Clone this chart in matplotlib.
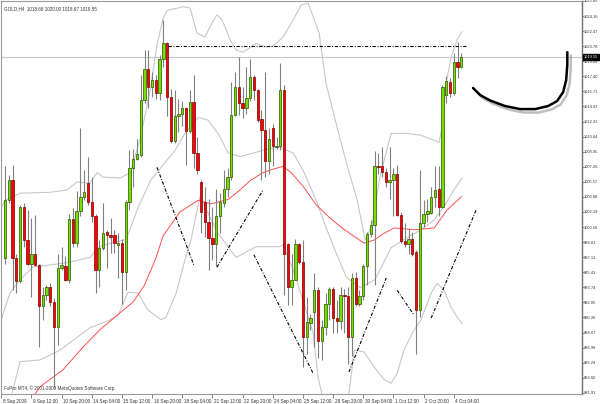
import numpy as np
import matplotlib
matplotlib.use("Agg")
import matplotlib.pyplot as plt
import matplotlib.patheffects as pe
import matplotlib.transforms as mtransforms

plt.rcParams["font.family"] = ["Liberation Sans", "DejaVu Sans"]

# === OHLC bars (GOLD, H4) ===
opens = [997.0, 1003.5, 1005.8, 997.0, 994.4, 1002.8, 999.0, 996.4, 997.5, 996.2,
         991.6, 992.9, 993.8, 992.1, 989.3, 995.9, 996.1, 994.6, 1001.4, 998.7,
         1002.3, 1003.9, 1005.4, 1003.3, 1001.7, 995.7, 998.2, 999.9, 999.6, 999.6,
         998.5, 998.7, 995.5, 1003.3, 1007.1, 1008.1, 1008.6, 1014.7, 1018.2, 1016.2,
         1017.0, 1015.5, 1019.3, 1021.1, 1015.1, 1010.1, 1012.9, 1013.2, 1013.8, 1011.3,
         1014.5, 1008.8, 1005.5, 1003.3, 1001.1, 999.3, 998.6, 1001.7, 1003.2, 1004.8,
         1006.1, 1013.1, 1016.2, 1014.4, 1013.9, 1015.0, 1017.3, 1015.9, 1012.6, 1011.4,
         1007.9, 1011.6, 1009.5, 1009.6, 1015.9, 998.6, 993.8, 994.6, 998.6, 996.6,
         988.2, 989.7, 991.0, 993.4, 987.7, 989.3, 991.9, 993.5, 990.3, 990.0,
         992.9, 992.8, 988.2, 994.8, 991.9, 992.8, 996.1, 999.7, 1000.7, 1007.3,
         1007.3, 1006.7, 1005.5, 1005.8, 1006.5, 1001.9, 998.9, 998.6, 999.2, 997.7,
         991.2, 1001.0, 1002.0, 1002.1, 1003.9, 1004.8, 1002.8, 1015.3, 1016.8, 1015.5,
         1019.0, 1018.5]
highs = [1007.3, 1006.3, 1007.5, 997.5, 1003.0, 1003.2, 1002.4, 1001.5, 1001.8, 996.4,
         993.8, 994.0, 994.2, 992.5, 997.5, 998.3, 997.2, 1002.0, 1002.6, 1004.5,
         1011.6, 1006.9, 1008.4, 1006.1, 1002.0, 999.0, 1003.2, 1000.2, 1001.5, 1000.2,
         999.8, 999.2, 1003.5, 1009.1, 1009.3, 1010.4, 1017.5, 1020.3, 1020.3, 1017.9,
         1017.5, 1019.8, 1023.7, 1021.2, 1016.0, 1015.9, 1014.9, 1014.6, 1014.0, 1015.9,
         1017.5, 1010.6, 1005.8, 1005.0, 1003.7, 1002.8, 1004.8, 1004.3, 1006.9, 1007.1,
         1016.8, 1017.9, 1019.6, 1016.2, 1018.5, 1019.4, 1017.5, 1016.0, 1013.6, 1017.9,
         1011.6, 1012.1, 1010.6, 1018.9, 1016.4, 998.7, 997.5, 999.2, 998.7, 999.0,
         992.7, 990.8, 995.3, 993.8, 990.1, 993.1, 993.8, 993.8, 992.3, 993.8,
         993.6, 993.8, 995.3, 995.5, 993.4, 996.4, 1000.0, 1001.3, 1009.0, 1008.8,
         1009.5, 1007.1, 1009.5, 1007.1, 1007.5, 1002.2, 1000.9, 1000.4, 1000.0, 997.9,
         1006.9, 1003.5, 1003.7, 1005.0, 1007.3, 1007.3, 1016.4, 1017.4, 1017.2, 1020.0,
         1021.3, 1020.0]
lows = [996.4, 1003.2, 993.4, 993.1, 994.2, 998.3, 996.2, 992.7, 996.1, 987.1,
        990.1, 992.3, 991.6, 982.6, 987.3, 995.7, 994.4, 994.2, 998.3, 998.3,
        1001.7, 1003.5, 1003.0, 1001.1, 993.1, 993.8, 997.9, 995.9, 997.6, 997.6,
        994.8, 991.9, 993.4, 1002.4, 1005.0, 1008.0, 1008.4, 1014.4, 1013.8, 1015.1,
        1014.9, 1014.7, 1018.5, 1012.9, 1009.9, 1009.9, 1011.2, 1011.8, 1007.5, 1011.0,
        1007.1, 1006.5, 999.8, 999.4, 995.7, 996.8, 996.1, 999.8, 1002.8, 1003.9,
        1005.8, 1012.9, 1013.1, 1012.7, 1013.2, 1014.6, 1014.7, 1012.3, 1005.8, 1006.1,
        1006.5, 1007.3, 1009.3, 1009.1, 992.9, 991.8, 991.8, 994.6, 996.4, 984.8,
        986.3, 989.0, 987.1, 985.8, 985.6, 988.4, 990.1, 988.6, 988.6, 989.1,
        988.6, 985.2, 986.0, 991.6, 991.6, 992.3, 994.0, 999.4, 994.0, 1006.5,
        1006.1, 1005.0, 1003.7, 1001.7, 1001.7, 998.7, 998.3, 997.5, 997.2, 986.3,
        990.4, 1000.5, 1001.1, 1002.0, 1002.8, 1001.7, 1002.6, 1014.4, 1015.1, 1015.3,
        1017.2, 1018.3]
closes = [1003.5, 1005.8, 997.0, 994.4, 1002.8, 999.0, 996.4, 997.5, 996.2, 991.6,
          992.9, 993.8, 992.1, 989.3, 995.9, 996.2, 994.6, 1001.4, 998.7, 1002.3,
          1003.9, 1004.4, 1003.3, 1001.7, 995.7, 998.2, 999.8, 999.6, 999.4, 998.7,
          998.7, 995.5, 1003.3, 1007.1, 1008.1, 1008.7, 1014.7, 1018.2, 1016.2, 1017.0,
          1015.5, 1019.3, 1021.1, 1015.1, 1010.1, 1012.9, 1013.2, 1013.8, 1011.3, 1014.5,
          1008.8, 1006.9, 1002.2, 1001.1, 999.3, 998.6, 1001.7, 1003.3, 1004.8, 1006.1,
          1013.1, 1016.2, 1014.4, 1013.9, 1015.0, 1017.3, 1015.9, 1012.5, 1011.4, 1007.9,
          1010.4, 1009.6, 1009.6, 1015.9, 997.5, 993.8, 994.6, 998.6, 996.6, 988.2,
          989.8, 990.3, 993.4, 987.7, 989.3, 991.9, 993.5, 990.3, 990.0, 992.9,
          992.8, 988.2, 994.8, 991.9, 992.8, 996.1, 999.7, 1000.7, 1007.3, 1007.2,
          1006.7, 1005.6, 1005.8, 1006.5, 1001.8, 998.9, 998.6, 999.2, 997.5, 991.2,
          1001.0, 1002.0, 1002.3, 1003.9, 1004.7, 1002.8, 1016.2, 1016.9, 1015.5, 1019.0,
          1018.5, 1019.6]

# === indicator lines: (bar index, price) ===
bb_upper_bar = [-1.3, 0, 4.0, 11.9, 16.4, 19.1, 22.5, 24.4, 26.0, 30.5, 33.2, 35.8, 38.5,
                40.3, 41.9, 43.0, 47.2, 49.1, 50.9, 53.0, 54.9, 56.2, 57.6, 59.7, 61.3,
                63.1, 66.6, 69.2, 71.1, 73.7, 76.4, 78.5, 80.4, 83.3, 85.1, 88.9, 90.7,
                93.4, 95.5, 97.3, 99.5, 102.4, 106.6, 110.3, 115.1, 115.9, 117.0, 118.3,
                119.9, 121.2]
bb_upper = [1002.4, 1003.5, 1004.3, 1004.4, 1004.65, 1005.55, 1005.4, 1006.6, 1006.1,
            1006.0, 1006.6, 1010.3, 1015.9, 1020.9, 1023.9, 1024.8, 1025.2, 1025.05,
            1022.25, 1021.8, 1023.4, 1024.3, 1023.7, 1021.5, 1020.35, 1020.1, 1021.1,
            1020.7, 1020.8, 1021.8, 1023.7, 1025.4, 1025.6, 1022.25, 1016.65, 1010.3,
            1007.45, 1003.5, 999.05, 1000.7, 1006.3, 1011.0, 1011.0, 1010.8, 1010.0,
            1011.7, 1016.65, 1019.6, 1021.5, 1022.4]
bb_mid_bar = [-1.3, 1.3, 4.0, 7.4, 16.4, 22.5, 25.2, 27.9, 32.1, 35.3, 38.7, 41.4, 45.1,
              47.7, 51.2, 53.8, 56.5, 59.2, 62.3, 68.4, 72.7, 76.4, 79.0, 82.5, 85.1,
              87.8, 90.5, 94.2, 98.1, 102.4, 105.8, 110.3, 113.8, 116.4, 119.1, 121.2]
bb_mid = [989.7, 993.1, 994.6, 996.0, 996.5, 997.1, 998.3, 998.7, 999.1, 1002.7, 1005.8,
          1007.2, 1009.1, 1011.0, 1012.8, 1012.5, 1011.0, 1008.8, 1008.4, 1009.1, 1009.5,
          1008.8, 1006.9, 1003.5, 1000.5, 997.6, 994.9, 993.7, 994.6, 998.2, 999.1,
          1000.2, 1001.3, 1002.8, 1004.7, 1006.0]
bb_lower_bar = [1.9, 4.0, 9.3, 14.6, 22.5, 27.9, 30.0, 32.6, 35.3, 37.9, 41.4, 42.7, 45.4,
                47.7, 49.3, 51.7, 52.5, 56.5, 61.3, 66.6, 72.7, 73.7, 76.4, 79.0, 81.7,
                83.0, 84.4, 87.5, 91.0, 92.6, 95.2, 97.9, 100.5, 102.4, 104.0, 105.8,
                108.0, 110.3, 113.0, 114.6, 116.4, 118.3, 119.9, 121.2]
bb_lower = [981.9, 985.4, 985.6, 986.7, 989.2, 990.1, 990.6, 993.2, 993.1, 991.2, 990.1,
            990.4, 993.1, 996.8, 999.05, 1003.9, 1003.2, 999.8, 997.1, 998.3, 998.3,
            998.5, 995.7, 992.3, 988.6, 983.7, 981.1, 978.9, 981.1, 986.7, 986.5, 984.8,
            983.4, 983.0, 984.1, 986.7, 988.6, 990.1, 993.1, 994.2, 993.4, 991.5, 990.4,
            989.7]
ma_bar = [8.0, 9.3, 15.4, 20.7, 25.2, 29.7, 34.0, 37.0, 40.0, 41.9, 46.4, 51.2, 54.6, 59.2,
          62.3, 65.0, 68.4, 71.1, 73.7, 75.9, 79.0, 82.5, 86.2, 89.7, 93.1, 95.2, 97.9,
          100.5, 103.2, 108.5, 113.8, 117.2, 121.0]
ma = [981.8, 982.6, 984.5, 987.05, 989.0, 990.6, 992.1, 994.0, 997.0, 999.5, 1002.2,
      1003.5, 1003.1, 1003.6, 1004.65, 1005.7, 1006.6, 1007.0, 1007.3, 1006.6, 1005.1,
      1003.0, 1001.5, 1000.3, 999.3, 998.7, 999.05, 999.8, 1000.4, 1000.2, 1000.4,
      1002.4, 1003.9]

# hand drawn trend lines: (bar0, price0, bar1, price1)
trend_lines = [(40.3, 1007.2, 50.1, 996.2),
               (56.2, 996.0, 68.4, 1004.65),
               (66.0, 997.4, 81.7, 984.1),
               (91.2, 984.25, 101.1, 994.8),
               (104.0, 993.4, 108.5, 990.6),
               (113.0, 990.3, 124.9, 1002.4),
               (43.2, 1020.8, 122.5, 1020.8)]
arc_bar = [124.1, 126.0, 128.6, 132.6, 136.6, 140.6, 144.0, 146.4, 148.0, 148.8, 149.1, 149.1]
arc_price = [1016.1, 1015.3, 1014.7, 1014.07, 1013.73, 1013.73, 1014.07, 1014.63, 1015.63,
             1016.98, 1018.66, 1020.12]

time_labels = ["8 Sep 2009", "9 Sep 12:00", "10 Sep 20:00", "14 Sep 04:00", "15 Sep 12:00",
               "16 Sep 20:00", "18 Sep 04:00", "21 Sep 12:00", "22 Sep 20:00", "24 Sep 04:00",
               "25 Sep 12:00", "28 Sep 20:00", "30 Sep 04:00", "1 Oct 12:00", "2 Oct 20:00",
               "4 Oct 04:00"]
bid = 1019.55
header = "GOLD,H4  1018.66 1020.00 1018.67 1019.55"
footer = "FxPro MT4, \u00a9 2001-2009 MetaQuotes Software Corp."

FS = 3.3      # tiny MT4 style font
FS_Y = 2.85   # price scale font, must fit in the 17px strip

fig = plt.figure(figsize=(6, 4.04), dpi=100)
ax = fig.add_axes([1 / 600, 10 / 404, 581 / 600, 393 / 404])
ax.set_xlim(-1.06, 153.0)
ax.set_ylim(981.78, 1025.84)

# bollinger bands and moving average
for xs, ys in ((bb_upper_bar, bb_upper), (bb_mid_bar, bb_mid), (bb_lower_bar, bb_lower)):
    ax.plot(xs, ys, color="#c8c8c8", lw=0.8, zorder=1)
ax.plot(ma_bar, ma, color="#ff5050", lw=0.7, zorder=1)

# bid line
ax.axhline(bid, color="#c0c8d0", lw=0.8, zorder=1)

# candles
idx = np.arange(len(opens))
o = np.array(opens); c = np.array(closes)
ax.vlines(idx, lows, highs, color="#808080", lw=0.8, zorder=2)
up = c >= o
body_lo = np.minimum(o, c)
body_h = np.maximum(np.abs(c - o), 0.12)
ax.bar(idx[up], body_h[up], bottom=body_lo[up], width=0.62, color="#74e000",
       edgecolor="#2c5200", linewidth=0.5, zorder=3)
ax.bar(idx[~up], body_h[~up], bottom=body_lo[~up], width=0.62, color="#ff0000",
       edgecolor="#7a0000", linewidth=0.5, zorder=3)

# trend lines
for b0, p0, b1, p1 in trend_lines:
    ax.plot([b0, b1], [p0, p1], color="black", lw=0.8, dashes=(3, 1.5, 0.8, 1.5), zorder=4)

# hand drawn arc with shadow
ax.plot(arc_bar, arc_price, color="black", lw=1.8, solid_capstyle="round", zorder=5,
        path_effects=[pe.SimpleLineShadow(offset=(2.5, -2.5), shadow_color="gray", alpha=0.5),
                      pe.Normal()])

# axes styling
for side in ("left", "top", "bottom"):
    ax.spines[side].set_color("#9a9a9a")
    ax.spines[side].set_linewidth(0.8)
ax.spines["right"].set_color("#707070")
ax.spines["right"].set_linewidth(1.0)

yt = [1025.85 - 1.69 * k for k in range(27)]
ax.yaxis.tick_right()
ax.set_yticks(yt)
ax.set_yticklabels([f"{v:.2f}" for v in yt])
ax.tick_params(axis="y", length=1.2, width=0.6, color="#707070", pad=0.3, labelsize=FS_Y,
               labelcolor="#333333")

xt = [-1 + 8 * k for k in range(len(time_labels))]
ax.set_xticks(xt)
ax.set_xticklabels(time_labels, ha="left")
ax.tick_params(axis="x", length=3, width=0.6, color="#707070", pad=0.8, labelsize=FS,
               labelcolor="#333333")
for lbl in ax.get_xticklabels():
    lbl.set_transform(lbl.get_transform() + mtransforms.ScaledTranslation(1.5 / 100, 0, fig.dpi_scale_trans))

# current price box
trans = mtransforms.blended_transform_factory(ax.transAxes, ax.transData)
ax.text(1.0035, bid, f"{bid:.2f}", transform=trans, fontsize=FS_Y, color="white",
        va="center", ha="left", clip_on=False,
        bbox=dict(boxstyle="square,pad=0.2", fc="black", ec="black"))

ax.text(0.005, 0.987, header, transform=ax.transAxes, fontsize=FS, color="#333333",
        va="top", ha="left")
ax.text(0.005, 0.008, footer, transform=ax.transAxes, fontsize=FS, color="#333333",
        va="bottom", ha="left")

fig.savefig("out.png", dpi=100, facecolor="white")
